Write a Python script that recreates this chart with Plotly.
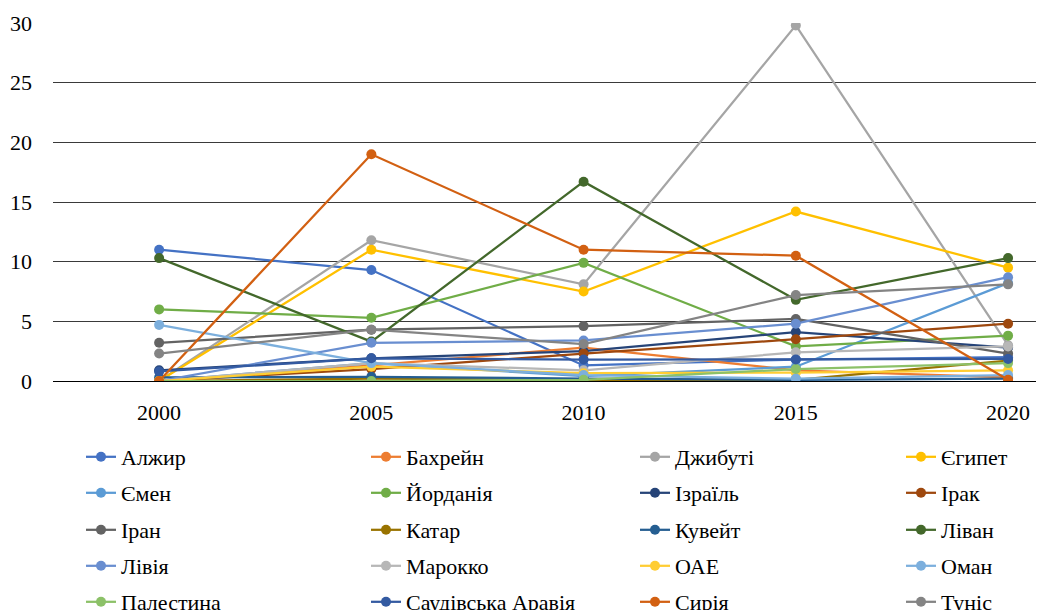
import plotly.graph_objects as go

years = ["2000", "2005", "2010", "2015", "2020"]

countries = ["Алжир", "Бахрейн", "Джибуті", "Єгипет", "Ємен", "Йорданія", "Ізраїль", "Ірак",
             "Іран", "Катар", "Кувейт", "Ліван", "Лівія", "Марокко", "ОАЕ", "Оман",
             "Палестина", "Саудівська Аравія", "Сирія", "Туніс"]

algeria = [11.0, 9.3, 1.3, 1.8, 2.0]
bahrain = [0.0, 1.3, 2.8, 0.9, 0.3]
djibouti = [0.0, 11.8, 8.1, 29.8, 3.0]
egypt = [0.0, 11.0, 7.5, 14.2, 9.5]
yemen = [0.0, 1.5, 0.4, 1.2, 8.2]
jordan = [6.0, 5.3, 9.9, 2.9, 3.8]
israel = [0.9, 1.9, 2.5, 4.1, 2.8]
iraq = [0.0, 1.0, 2.3, 3.5, 4.8]
iran = [3.2, 4.3, 4.6, 5.2, 2.3]
qatar = [0.0, 0.2, 0.1, 0.1, 1.7]
kuwait = [0.3, 0.35, 0.2, 0.1, 0.2]
lebanon = [10.3, 3.3, 16.7, 6.8, 10.3]
libya = [0.0, 3.2, 3.4, 4.8, 8.7]
morocco = [0.0, 1.5, 0.9, 2.4, 2.9]
uae = [0.0, 1.2, 0.65, 0.7, 0.9]
oman = [4.7, 1.5, 0.5, 0.2, 0.5]
palestine = [0.0, 0.0, 0.1, 1.0, 1.5]
saudi = [0.8, 1.9, 1.8, 1.8, 1.85]
syria = [0.0, 19.0, 11.0, 10.5, 0.1]
tunisia = [2.3, 4.3, 3.1, 7.2, 8.1]

series = [algeria, bahrain, djibouti, egypt, yemen, jordan, israel, iraq, iran, qatar,
          kuwait, lebanon, libya, morocco, uae, oman, palestine, saudi, syria, tunisia]

colors = ["#4472C4", "#ED7D31", "#A5A5A5", "#FFC000", "#5B9BD5", "#70AD47", "#264478", "#9E480E",
          "#636363", "#997300", "#255E91", "#43682B", "#698ED0", "#B7B7B7", "#FFCD33", "#7CAFDD",
          "#8CC168", "#335AA1", "#D26012", "#848484"]

yticks = [0, 5, 10, 15, 20, 25, 30]

FONT = "Times New Roman, Liberation Serif, DejaVu Serif, serif"
FS = 22

W, H = 1044, 610
OFF = 8  # page body margin
L, T, B = 53 - OFF, 23 - OFF, 229 + OFF
col_px = [73, 358, 627, 893]
row_px = [457, 493, 530, 566, 602]

fig = go.Figure()
legends = {}
for i, (name, vals, col) in enumerate(zip(countries, series, colors)):
    key = "legend" if i == 0 else f"legend{i + 1}"
    fig.add_trace(go.Scatter(
        x=years, y=vals, name=name, mode="lines+markers",
        line=dict(color=col, width=2.25),
        marker=dict(color=col, size=10),
        legend=key,
    ))
    r, c = divmod(i, 4)
    legends[key] = dict(
        xref="container", yref="container",
        x=col_px[c] / W, xanchor="left",
        y=1 - (row_px[r] - OFF) / H, yanchor="middle",
        font=dict(family=FONT, size=FS, color="#000000"),
        bgcolor="rgba(0,0,0,0)", itemwidth=30,
    )

fig.update_layout(
    width=W, height=H,
    margin=dict(l=L, r=0, t=T, b=B, autoexpand=False),
    paper_bgcolor="white", plot_bgcolor="white",
    font=dict(family=FONT, size=FS, color="#000000"),
    showlegend=True,
    **legends,
)

fig.update_xaxes(
    type="category", range=[-0.5, 4.207],
    showgrid=False, showline=False, zeroline=False, ticks="",
    tickfont=dict(family=FONT, size=FS, color="#000000"),
    ticklabelstandoff=16,
)
fig.update_yaxes(
    range=[0, 30], tickvals=yticks, ticktext=[str(v) for v in yticks],
    showgrid=True, gridcolor="#3a3a3a", gridwidth=1,
    zeroline=True, zerolinecolor="#000000", zerolinewidth=1,
    showline=False, ticks="",
    tickfont=dict(family=FONT, size=FS, color="#000000"),
    ticklabelstandoff=20,
)

fig.write_html("out.html")
